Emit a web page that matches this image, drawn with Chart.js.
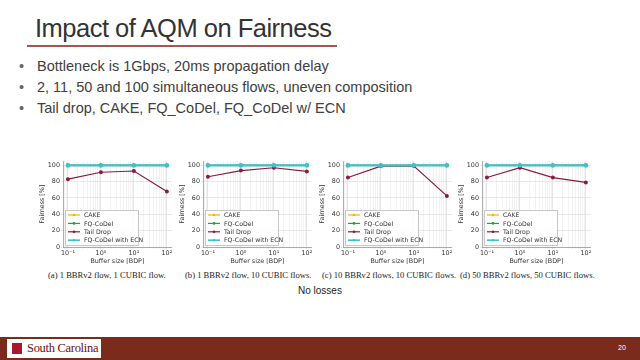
<!DOCTYPE html>
<html>
<head>
<meta charset="utf-8">
<script src="https://cdn.jsdelivr.net/npm/chart.js@4"></script>
<style>
  body { margin: 0; width: 640px; height: 360px; overflow: hidden; background: #fff; position: relative; font-family: "Liberation Sans", Arial, sans-serif; }
  .title { position: absolute; left: 35px; top: 14px; font-size: 25.5px; line-height: 29px; color: #333; letter-spacing: -0.5px; white-space: nowrap; }
  .rule { position: absolute; left: 27px; top: 45px; width: 310px; height: 2px; background: #a4584a; }
  .bullets { position: absolute; left: 19px; top: 58px; font-size: 14.5px; color: #404040; }
  .bullets div { height: 21px; white-space: nowrap; }
  .bullets span { display: inline-block; width: 18px; color: #666; }
  canvas.c { position: absolute; top: 155px; }
  .cap { position: absolute; top: 270px; font-family: "Liberation Serif", "Times New Roman", serif; font-size: 8.6px; color: #222; white-space: nowrap; }
  .note { position: absolute; left: 298px; top: 285px; font-family: "Liberation Sans", sans-serif; font-size: 10px; color: #222; }
  .footer { position: absolute; left: 0; top: 337px; width: 640px; height: 23px; background: #7b2b1c; }
  .logo { position: absolute; left: 7px; top: 339px; width: 94px; height: 19px; background: #fff; }
  .logo .sq { position: absolute; left: 5px; top: 4px; width: 10px; height: 11px; background: #a6192e; }
  .logo .t { position: absolute; left: 20px; top: 2px; font-family: "Liberation Serif", serif; font-size: 12.5px; color: #6b0f12; white-space: nowrap; letter-spacing: -0.3px; }
  .page { position: absolute; left: 618px; top: 344px; font-size: 7px; color: #fff; }
</style>
</head>
<body>
<div class="title">Impact of AQM on Fairness</div>
<div class="rule"></div>
<div class="bullets">
  <div><span>•</span>Bottleneck is 1Gbps, 20ms propagation delay</div>
  <div><span>•</span>2, 11, 50 and 100 simultaneous flows, uneven composition</div>
  <div><span>•</span>Tail drop, CAKE, FQ_CoDel, FQ_CoDel w/ ECN</div>
</div>

<canvas class="c" id="chartA" width="139" height="112"></canvas>
<canvas class="c" id="chartB" width="139" height="112"></canvas>
<canvas class="c" id="chartC" width="139" height="112"></canvas>
<canvas class="c" id="chartD" width="139" height="112"></canvas>

<div class="cap" style="left:48px">(a) 1 BBRv2 flow, 1 CUBIC flow.</div>
<div class="cap" style="left:185px">(b) 1 BBRv2 flow, 10 CUBIC flows.</div>
<div class="cap" style="left:322px">(c) 10 BBRv2 flows, 10 CUBIC flows.</div>
<div class="cap" style="left:460px">(d) 50 BBRv2 flows, 50 CUBIC flows.</div>
<div class="note">No losses</div>

<div class="footer"></div>
<div class="logo"><div class="sq"></div><div class="t">South Carolina</div></div>
<div class="page">20</div>

<script>
// valeurs
const bufferSizes = [0.1, 1, 10, 100];
const xTickLabels = ['10\u207B\u00B9', '10\u2070', '10\u00B9', '10\u00B2'];
const yTicks = [0, 20, 40, 60, 80, 100];
const seriesNames = ['CAKE', 'FQ-CoDel', 'Tail Drop', 'FQ-CoDel with ECN'];
const seriesColors = ['#f5b400', '#2ca02c', '#8b1c3a', '#3fc0cf'];

const cakeValues = [100, 100, 100, 100];
const fqCodelValues = [100, 100, 100, 100];
const fqCodelEcnValues = [100, 100, 100, 100];
const tailDropA = [83, 91.5, 93, 68];
const tailDropB = [86, 93.5, 97, 92.5];
const tailDropC = [85, 99, 99, 62.5];
const tailDropD = [85, 97, 85, 79];

const panels = [
    { id: 'chartA', plotLeft: 63, tail: tailDropA },
    { id: 'chartB', plotLeft: 203, tail: tailDropB },
    { id: 'chartC', plotLeft: 343, tail: tailDropC },
    { id: 'chartD', plotLeft: 482, tail: tailDropD }
];

// ticks mineurs du log (comme matplotlib)
const minorTicks = [];
for (let d = -2; d <= 2; d++) {
    for (let m = 1; m <= 9; m++) {
        minorTicks.push(m * Math.pow(10, d));
    }
}

const isMajor = v => bufferSizes.some(b => Math.abs(b - v) < 1e-9 * b);
const toPoints = vals => vals.map((v, i) => ({ x: bufferSizes[i], y: v }));
const axisFont = { family: 'DejaVu Sans', size: 6.4 };

// légende dessinée dans la zone du graphique, en bas à gauche
const insideLegend = {
    id: 'insideLegend',
    afterDatasetsDraw(chart) {
        const ctx = chart.ctx;
        const a = chart.chartArea;
        const x = a.left + 2, y = a.bottom - 37, w = 73, h = 35;
        ctx.save();
        ctx.fillStyle = 'rgba(255,255,255,0.85)';
        ctx.strokeStyle = '#bbb';
        ctx.lineWidth = 0.8;
        ctx.fillRect(x, y, w, h);
        ctx.strokeRect(x + 0.5, y + 0.5, w, h);
        ctx.font = '6.2px "DejaVu Sans"';
        ctx.textBaseline = 'middle';
        seriesNames.forEach((name, i) => {
            const ry = y + 5 + i * 8.4;
            ctx.strokeStyle = seriesColors[i];
            ctx.lineWidth = i === 3 ? 1.6 : 1.2;
            ctx.beginPath();
            ctx.moveTo(x + 3, ry);
            ctx.lineTo(x + 15, ry);
            ctx.stroke();
            ctx.fillStyle = seriesColors[i];
            ctx.beginPath();
            ctx.arc(x + 9, ry, 1.3, 0, Math.PI * 2);
            ctx.fill();
            ctx.fillStyle = '#333';
            ctx.fillText(name, x + 19, ry + 0.5);
        });
        ctx.restore();
    }
};

panels.forEach(p => {
    const canvas = document.getElementById(p.id);
    canvas.style.left = (p.plotLeft - 24) + 'px';

    new Chart(canvas, {
        type: 'line',
        data: {
            datasets: [
                { label: seriesNames[0], data: toPoints(cakeValues), borderColor: seriesColors[0], backgroundColor: seriesColors[0], borderWidth: 1.2, pointRadius: 1.3, order: 3 },
                { label: seriesNames[1], data: toPoints(fqCodelValues), borderColor: seriesColors[1], backgroundColor: seriesColors[1], borderWidth: 1.2, pointRadius: 1.3, order: 2 },
                { label: seriesNames[2], data: toPoints(p.tail), borderColor: seriesColors[2], backgroundColor: seriesColors[2], borderWidth: 1.2, pointRadius: 1.4, order: 1 },
                { label: seriesNames[3], data: toPoints(fqCodelEcnValues), borderColor: seriesColors[3], backgroundColor: seriesColors[3], borderWidth: 2.2, pointRadius: 1.3, order: 0 }
            ]
        },
        options: {
            responsive: false,
            animation: false,
            events: [],
            layout: { padding: { top: 6, right: 4, bottom: 2, left: 0 } },
            plugins: { legend: { display: false }, tooltip: { enabled: false } },
            scales: {
                x: {
                    type: 'logarithmic',
                    min: Math.pow(10, -1.15),
                    max: Math.pow(10, 2.15),
                    afterBuildTicks: s => { s.ticks = minorTicks.filter(v => v >= s.min && v <= s.max).map(v => ({ value: v })); },
                    afterFit: s => { s.height = 18; },
                    ticks: {
                        autoSkip: false,
                        maxRotation: 0,
                        padding: 1,
                        color: '#333',
                        font: axisFont,
                        callback: v => {
                            const i = bufferSizes.findIndex(b => Math.abs(b - v) < 1e-9 * b);
                            return i >= 0 ? xTickLabels[i] : '';
                        }
                    },
                    grid: {
                        color: c => (c.tick && isMajor(c.tick.value)) ? '#dedede' : '#f0f0f0',
                        lineWidth: 0.8,
                        tickLength: 2
                    },
                    border: { color: '#999', width: 0.8 },
                    title: { display: true, text: 'Buffer size [BDP]', color: '#333', font: axisFont, padding: { top: 0, bottom: 0 } }
                },
                y: {
                    min: 0,
                    max: 105,
                    afterBuildTicks: s => { s.ticks = yTicks.map(v => ({ value: v })); },
                    afterFit: s => { s.width = 24; },
                    ticks: { padding: 1, color: '#333', font: axisFont },
                    grid: { color: '#e2e2e2', lineWidth: 0.8, tickLength: 2 },
                    border: { color: '#999', width: 0.8 },
                    title: { display: true, text: 'Fairness [%]', color: '#333', font: axisFont, padding: { top: 0, bottom: 1 } }
                }
            }
        },
        plugins: [insideLegend]
    });
});
</script>
</body>
</html>
